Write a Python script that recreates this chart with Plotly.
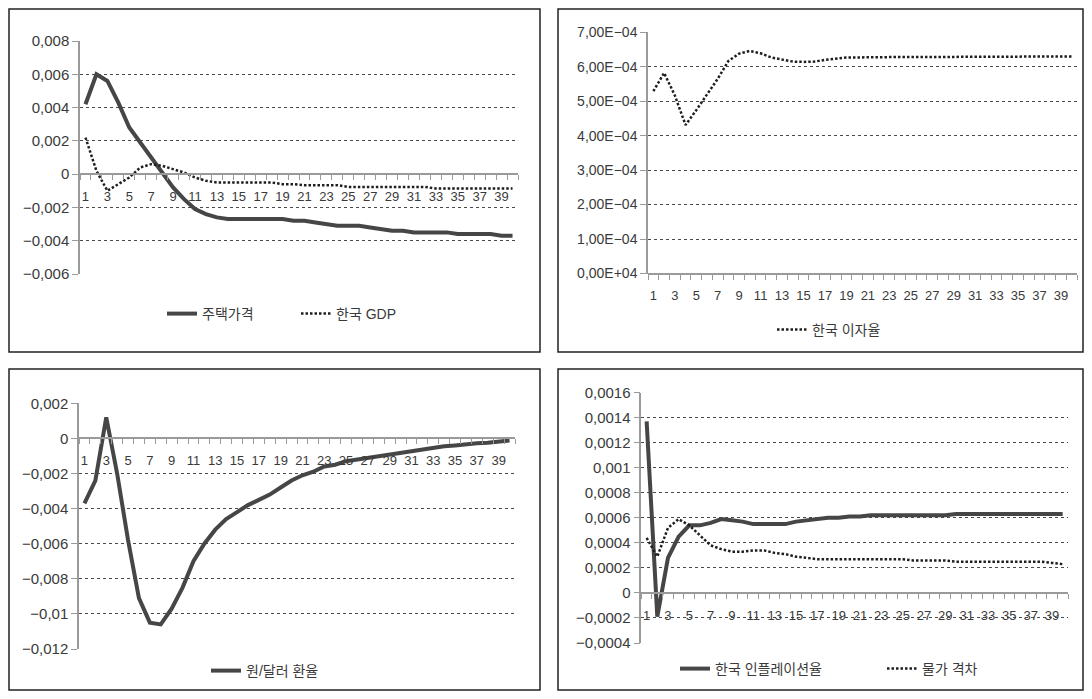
import plotly.graph_objects as go

# ---------------- data ----------------
periods = list(range(1, 41))

house_price = [0.0042, 0.0060, 0.0056, 0.0043, 0.0028, 0.0019, 0.0010, 0.0001, -0.0008, -0.0015,
               -0.0021, -0.0024, -0.0026, -0.0027, -0.0027, -0.0027, -0.0027, -0.0027, -0.0027, -0.0028,
               -0.0028, -0.0029, -0.0030, -0.0031, -0.0031, -0.0031, -0.0032, -0.0033, -0.0034, -0.0034,
               -0.0035, -0.0035, -0.0035, -0.0035, -0.0036, -0.0036, -0.0036, -0.0036, -0.0037, -0.0037]

korea_gdp = [0.0022, 0.0002, -0.0010, -0.0006, -0.0002, 0.0004, 0.0006, 0.0005, 0.0003, 0.0001,
             -0.0002, -0.0004, -0.0005, -0.0005, -0.0005, -0.0005, -0.0005, -0.0005, -0.0006, -0.0006,
             -0.00066, -0.00066, -0.00066, -0.00066, -0.00077, -0.00077, -0.00077, -0.00077, -0.00077, -0.00077,
             -0.00077, -0.00077, -0.00086, -0.00086, -0.00086, -0.00086, -0.00086, -0.00086, -0.00086, -0.00086]

korea_rate = [5.29e-4, 5.82e-4, 5.17e-4, 4.31e-4, 4.74e-4, 5.20e-4, 5.65e-4, 6.17e-4, 6.38e-4, 6.46e-4,
              6.39e-4, 6.27e-4, 6.20e-4, 6.15e-4, 6.14e-4, 6.15e-4, 6.20e-4, 6.24e-4, 6.27e-4, 6.27e-4,
              6.28e-4, 6.28e-4, 6.28e-4, 6.28e-4, 6.28e-4, 6.28e-4, 6.28e-4, 6.30e-4, 6.30e-4, 6.30e-4,
              6.30e-4, 6.30e-4, 6.30e-4, 6.30e-4, 6.30e-4, 6.30e-4, 6.30e-4, 6.30e-4, 6.30e-4, 6.30e-4]

krw_usd = [-0.0037, -0.0024, 0.0012, -0.0020, -0.0058, -0.0091, -0.0105, -0.0106, -0.0097, -0.0085,
           -0.0070, -0.0060, -0.0052, -0.0046, -0.0042, -0.0038, -0.0035, -0.0032, -0.0028, -0.0024,
           -0.0021, -0.0019, -0.0016, -0.0015, -0.0013, -0.0012, -0.0011, -0.0010, -0.0009, -0.0008,
           -0.0007, -0.0006, -0.0005, -0.00045, -0.0004, -0.00033, -0.00028, -0.00025, -0.0002, -0.00012]

korea_infl = [0.00137, -0.00019, 0.00028, 0.00045, 0.00054, 0.00054, 0.00056, 0.00059, 0.00058, 0.00057,
              0.00055, 0.00055, 0.00055, 0.00055, 0.00057, 0.00058, 0.00059, 0.00060, 0.00060, 0.00061,
              0.00061, 0.00062, 0.00062, 0.00062, 0.00062, 0.00062, 0.00062, 0.00062, 0.00062, 0.00063,
              0.00063, 0.00063, 0.00063, 0.00063, 0.00063, 0.00063, 0.00063, 0.00063, 0.00063, 0.00063]

price_gap = [0.00044, 0.00029, 0.00052, 0.00059, 0.00054, 0.00046, 0.00038, 0.00035, 0.00033, 0.00033,
             0.00034, 0.00034, 0.00032, 0.00031, 0.00029, 0.00028, 0.00027, 0.00027, 0.00027, 0.00027,
             0.00027, 0.00027, 0.00027, 0.00027, 0.00027, 0.00026, 0.00026, 0.00026, 0.00026, 0.00025,
             0.00025, 0.00025, 0.00025, 0.00025, 0.00025, 0.00025, 0.00025, 0.00025, 0.00024, 0.00023]

# tick labels
tl_tickvals = [0.008, 0.006, 0.004, 0.002, 0, -0.002, -0.004, -0.006]
tl_ticktext = ["0,008", "0,006", "0,004", "0,002", "0", "−0,002", "−0,004", "−0,006"]
tr_tickvals = [7e-4, 6e-4, 5e-4, 4e-4, 3e-4, 2e-4, 1e-4, 0]
tr_ticktext = ["7,00E−04", "6,00E−04", "5,00E−04", "4,00E−04", "3,00E−04", "2,00E−04", "1,00E−04", "0,00E+04"]
bl_tickvals = [0.002, 0, -0.002, -0.004, -0.006, -0.008, -0.01, -0.012]
bl_ticktext = ["0,002", "0", "−0,002", "−0,004", "−0,006", "−0,008", "−0,01", "−0,012"]
br_tickvals = [0.0016, 0.0014, 0.0012, 0.001, 0.0008, 0.0006, 0.0004, 0.0002, 0, -0.0002, -0.0004]
br_ticktext = ["0,0016", "0,0014", "0,0012", "0,001", "0,0008", "0,0006", "0,0004", "0,0002", "0",
               "−0,0002", "−0,0004"]

names = {"house": "주택가격", "gdp": "한국 GDP", "rate": "한국 이자율", "fx": "원/달러 환율",
         "infl": "한국 인플레이션율", "gap": "물가 격차"}

# ---------------- layout helpers ----------------
# The page keeps the browser's 8px body margin, so the figure is sized to fit the
# 1092x699 window exactly and positions are measured from the window's corner.
PAGE_W, PAGE_H, BODY = 1092, 699, 8
W, H = PAGE_W - 2 * BODY, PAGE_H - 2 * BODY


def px_x(v):
    return (v - BODY) / W


def px_y(v):
    return 1 - (v - BODY) / H


SOLID = dict(color="#464646", width=4)
DOTTED = dict(color="#1e1e1e", width=2.5, dash="2.5px,2px")
AX = "#9a9a9a"
TXT = "#3a3a3a"


def xaxis_spec(dom, ydom, yrange):
    pos = ydom[0] + (0 - yrange[0]) / (yrange[1] - yrange[0]) * (ydom[1] - ydom[0])
    return dict(domain=dom, anchor="free", position=pos, range=[0.5, 40.5], automargin=False,
                tickmode="linear", tick0=1, dtick=2, ticks="",
                showgrid=False, zeroline=False, showline=True, linecolor=AX, linewidth=2,
                minor=dict(ticks="outside", tickmode="linear", tick0=0.5, dtick=1,
                           ticklen=5, tickcolor=AX, tickwidth=1, showgrid=False),
                tickfont=dict(size=13, color=TXT), ticklabelstandoff=10)


def yaxis_spec(dom, anchor, yrange, vals, texts, fsize=15):
    return dict(domain=dom, anchor=anchor, range=yrange, tickmode="array", automargin=False,
                tickvals=vals, ticktext=texts, ticks="outside", ticklen=6, tickcolor=AX,
                showline=True, linecolor=AX, linewidth=1.5, zeroline=False,
                showgrid=True, gridcolor="#4a4a4a", gridwidth=1, griddash="dot",
                tickfont=dict(size=fsize, color=TXT))


tl_x = [px_x(80), px_x(518)]
tl_y = [px_y(274), px_y(41)]
tr_x = [px_x(648), px_x(1077)]
tr_y = [px_y(273.5), px_y(32.3)]
bl_x = [px_x(79), px_x(515)]
bl_y = [px_y(649), px_y(403.3)]
br_x = [px_x(641.3), px_x(1068)]
br_y = [px_y(643), px_y(392.7)]

tl_r = [-0.006, 0.008]
tr_r = [0, 0.0007]
bl_r = [-0.012, 0.002]
br_r = [-0.0004, 0.0016]

fig = go.Figure()
fig.add_trace(go.Scatter(x=periods, y=house_price, mode="lines", name=names["house"], line=SOLID,
                         xaxis="x", yaxis="y", legend="legend"))
fig.add_trace(go.Scatter(x=periods, y=korea_gdp, mode="lines", name=names["gdp"], line=DOTTED,
                         xaxis="x", yaxis="y", legend="legend"))
fig.add_trace(go.Scatter(x=periods, y=korea_rate, mode="lines", name=names["rate"], line=DOTTED,
                         xaxis="x2", yaxis="y2", legend="legend2"))
fig.add_trace(go.Scatter(x=periods, y=krw_usd, mode="lines", name=names["fx"], line=SOLID,
                         xaxis="x3", yaxis="y3", legend="legend3"))
fig.add_trace(go.Scatter(x=periods, y=korea_infl, mode="lines", name=names["infl"], line=SOLID,
                         xaxis="x4", yaxis="y4", legend="legend4"))
fig.add_trace(go.Scatter(x=periods, y=price_gap, mode="lines", name=names["gap"], line=DOTTED,
                         xaxis="x4", yaxis="y4", legend="legend4"))

leg_common = dict(orientation="h", xanchor="left", yanchor="middle",
                  font=dict(size=14, color=TXT), bgcolor="rgba(0,0,0,0)")

fig.update_layout(
    width=W, height=H, autosize=False,
    margin=dict(l=0, r=0, t=0, b=0, pad=0, autoexpand=False),
    paper_bgcolor="white", plot_bgcolor="white",
    font=dict(family="Liberation Sans, Noto Sans CJK KR, sans-serif", color=TXT),
    showlegend=True,
    xaxis=xaxis_spec(tl_x, tl_y, tl_r),
    yaxis=yaxis_spec(tl_y, "x", tl_r, tl_tickvals, tl_ticktext),
    xaxis2=xaxis_spec(tr_x, tr_y, tr_r),
    yaxis2=yaxis_spec(tr_y, "x2", tr_r, tr_tickvals, tr_ticktext, 14),
    xaxis3=xaxis_spec(bl_x, bl_y, bl_r),
    yaxis3=yaxis_spec(bl_y, "x3", bl_r, bl_tickvals, bl_ticktext),
    xaxis4=xaxis_spec(br_x, br_y, br_r),
    yaxis4=yaxis_spec(br_y, "x4", br_r, br_tickvals, br_ticktext),
    legend=dict(x=px_x(162), y=px_y(314), entrywidth=89, **leg_common),
    legend2=dict(x=px_x(772), y=px_y(330), **leg_common),
    legend3=dict(x=px_x(206), y=px_y(671), **leg_common),
    legend4=dict(x=px_x(675), y=px_y(669), entrywidth=162, **leg_common),
)

# panel frames
for (x0, y0, x1, y1) in [(9, 9, 540, 352), (558, 9, 1083, 352), (9, 369, 540, 690), (558, 369, 1083, 690)]:
    fig.add_shape(type="rect", xref="paper", yref="paper",
                  x0=px_x(x0), x1=px_x(x1), y0=px_y(y1), y1=px_y(y0),
                  line=dict(color="#222222", width=1.5), fillcolor="rgba(0,0,0,0)", layer="above")

fig.write_html("out.html", config={"displayModeBar": False})
